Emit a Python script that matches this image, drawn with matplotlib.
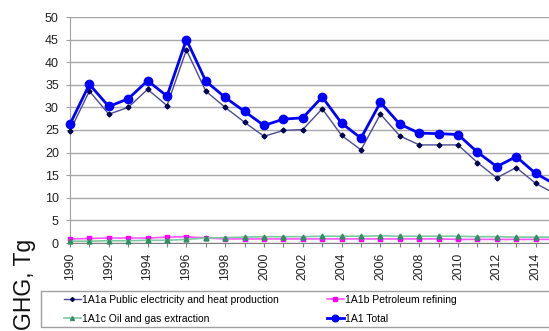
import matplotlib
matplotlib.use("Agg")
import matplotlib.pyplot as plt
from matplotlib.patches import Rectangle

plt.rcParams['font.family'] = ['Liberation Sans', 'DejaVu Sans']

years = list(range(1990, 2016))
public_elec = [24.8, 33.6, 28.5, 30.0, 34.0, 30.4, 42.7, 33.6, 30.0, 26.7,
               23.6, 24.9, 25.1, 29.7, 23.8, 20.6, 28.5, 23.7, 21.7, 21.7,
               21.7, 17.8, 14.4, 16.7, 13.2, 10.9]
petroleum = [0.9, 1.0, 1.1, 1.1, 1.1, 1.3, 1.4, 1.1, 0.9, 0.9,
             0.9, 0.9, 0.9, 0.9, 0.9, 0.9, 0.9, 0.9, 0.9, 0.9,
             0.8, 0.8, 0.8, 0.8, 0.8, 0.8]
oil_gas = [0.4, 0.4, 0.5, 0.5, 0.6, 0.6, 0.8, 1.1, 1.2, 1.3,
           1.4, 1.4, 1.4, 1.5, 1.5, 1.5, 1.6, 1.5, 1.5, 1.5,
           1.5, 1.4, 1.4, 1.3, 1.3, 1.3]
total = [26.3, 35.1, 30.2, 31.9, 35.9, 32.5, 45.0, 35.8, 32.2, 29.1,
         26.0, 27.4, 27.7, 32.3, 26.5, 23.2, 31.1, 26.3, 24.3, 24.2,
         24.0, 20.1, 16.9, 19.1, 15.4, 13.0]
labels = ["1A1a Public electricity and heat production",
          "1A1b Petroleum refining",
          "1A1c Oil and gas extraction",
          "1A1 Total"]
y_ticks = list(range(0, 51, 5))
ylabel = "GHG, Tg"

W, H = 549, 331
fig = plt.figure(figsize=(W / 100, H / 100), dpi=100)
ax = fig.add_axes([70 / W, (H - 243) / H, 485 / W, 226 / H])

l_a, = ax.plot(years, public_elec, color='#4b4b95', lw=1.0, marker='D',
               ms=2.5, mfc='#000050', mec='#000050', clip_on=False, zorder=3)
l_b, = ax.plot(years, petroleum, color='#ff55ff', lw=1.2, marker='s',
               ms=3.5, mfc='#ff00ff', mec='#ff00ff', clip_on=False, zorder=3)
l_c, = ax.plot(years, oil_gas, color='#7fc7a0', lw=1.2, marker='^',
               ms=3.5, mfc='#2f8f60', mec='#2f8f60', clip_on=False, zorder=3)
l_t, = ax.plot(years, total, color='#0000ff', lw=2.0, marker='o',
               ms=6, mfc='#0000ff', mec='#0000ff', clip_on=False, zorder=4)

ax.set_xlim(1990, 2015)
ax.set_ylim(0, 50)
ax.set_yticks(y_ticks)
ax.set_yticklabels([str(v) for v in y_ticks], fontsize=9, color='#222222')
ax.set_xticks(years)
ax.set_xticklabels([str(y) if y % 2 == 0 else '' for y in years],
                   rotation=90, fontsize=8.8, color='#222222')
ax.tick_params(axis='x', length=3, color='#808080', pad=4)
ax.tick_params(axis='y', length=3, color='#a0a0a0', pad=5)
ax.grid(axis='y', color='#a8a8a8', lw=1.0)
ax.set_axisbelow(True)
for s in ('top', 'right'):
    ax.spines[s].set_visible(False)
ax.spines['left'].set_color('#a0a0a0')
ax.spines['bottom'].set_color('#808080')

fig.text(25 / W, (H - 284) / H, ylabel, rotation=90, fontsize=16.5,
         ha='center', va='center', color='#111111')

fig.add_artist(Rectangle((41 / W, (H - 327) / H), 600 / W, 36 / H,
                         transform=fig.transFigure, fill=False,
                         edgecolor='#a0a0a0', lw=1.0))
fig.legend([l_a, l_c, l_b, l_t], [labels[0], labels[2], labels[1], labels[3]],
           ncol=2, loc='upper left', bbox_to_anchor=(64 / W, (H - 295) / H),
           frameon=False, fontsize=7.5, handlelength=1.6, handletextpad=0.15,
           columnspacing=4.6, labelspacing=0.85, borderpad=0, borderaxespad=0,
           markerscale=0.8)

fig.savefig("out.png", dpi=100)
